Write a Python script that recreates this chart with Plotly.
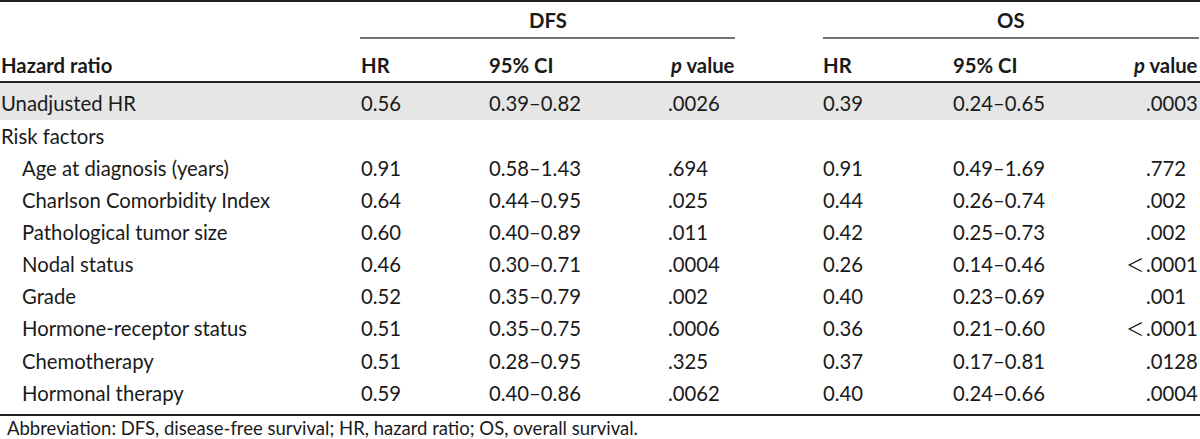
import plotly.graph_objects as go

# ---- data ----
row_labels = ["Unadjusted HR", "Risk factors", "Age at diagnosis (years)", "Charlson Comorbidity Index",
              "Pathological tumor size", "Nodal status", "Grade", "Hormone-receptor status",
              "Chemotherapy", "Hormonal therapy"]
row_indent = [0, 0, 1, 1, 1, 1, 1, 1, 1, 1]
dfs_hr = ["0.56", "", "0.91", "0.64", "0.60", "0.46", "0.52", "0.51", "0.51", "0.59"]
dfs_ci = ["0.39–0.82", "", "0.58–1.43", "0.44–0.95", "0.40–0.89", "0.30–0.71", "0.35–0.79",
          "0.35–0.75", "0.28–0.95", "0.40–0.86"]
dfs_p = [".0026", "", ".694", ".025", ".011", ".0004", ".002", ".0006", ".325", ".0062"]
os_hr = ["0.39", "", "0.91", "0.44", "0.42", "0.26", "0.40", "0.36", "0.37", "0.40"]
os_ci = ["0.24–0.65", "", "0.49–1.69", "0.26–0.74", "0.25–0.73", "0.14–0.46", "0.23–0.69",
         "0.21–0.60", "0.17–0.81", "0.24–0.66"]
os_p = [".0003", "", ".772", ".002", ".002", "<.0001", ".001", "<.0001", ".0128", ".0004"]
group_titles = ["DFS", "OS"]
col_headers = ["HR", "95% CI", "<i>p</i> value"]
stub_header = "Hazard ratio"
footnote = "Abbreviation: DFS, disease-free survival; HR, hazard ratio; OS, overall survival."

# ---- layout constants ----
W, H = 1200, 439
FONT = "Lato, 'Open Sans', sans-serif"
FS = 20.3
TXT = "#1a1a1a"
row_y = [103, 136, 168, 200, 232, 264, 296, 328, 361, 393]

fig = go.Figure()
ann = []
shapes = []

def text(x, y, s, anchor="left", bold=False, size=FS, family=FONT):
    ann.append(dict(x=x, y=y, xref="x", yref="y", text=f"<b>{s}</b>" if bold else s,
                    showarrow=False, xanchor=anchor, yanchor="middle", borderpad=0,
                    font=dict(family=family, size=size, color=TXT)))

# shading of first row
shapes.append(dict(type="rect", x0=0, x1=W, y0=83, y1=120, xref="x", yref="y",
                   fillcolor="#e6e6e6", line=dict(width=0), layer="below"))
# rules
for y, w in [(1, 2), (82, 2), (415, 2)]:
    shapes.append(dict(type="line", x0=0, x1=W, y0=y, y1=y, xref="x", yref="y",
                       line=dict(color="#222222", width=w)))
groups = [dict(x0=360, x1=735, hr=360, ci=488, p=667, pr=736),
          dict(x0=823, x1=1199, hr=822, ci=952, p=1145, pr=1199)]
for g, t in zip(groups, group_titles):
    shapes.append(dict(type="line", x0=g["x0"], x1=g["x1"], y0=38, y1=38, xref="x", yref="y",
                       line=dict(color="#444444", width=1.5)))
    text((g["x0"] + g["x1"]) / 2, 20, t, anchor="center", bold=True)
    text(g["hr"], 65, col_headers[0], bold=True)
    text(g["ci"], 65, col_headers[1], bold=True)
    text(g["pr"], 65, col_headers[2], anchor="right", bold=True)

text(0, 65, stub_header, bold=True)

for i, lab in enumerate(row_labels):
    y = row_y[i]
    text(0 + 21 * row_indent[i], y, lab)
    for g, hr, ci, p in [(groups[0], dfs_hr[i], dfs_ci[i], dfs_p[i]),
                         (groups[1], os_hr[i], os_ci[i], os_p[i])]:
        if hr:
            text(g["hr"], y, hr)
            text(g["ci"], y, ci)
        if p:
            if p.startswith("<"):
                text(g["p"], y, p[1:])
                text(g["p"], y, "＜", anchor="right", family="'Noto Sans CJK SC', sans-serif", size=18)
            else:
                text(g["p"], y, p)

text(6, 428, footnote, size=18.5)

fig.update_layout(width=W, height=H, margin=dict(l=0, r=0, t=0, b=0),
                  paper_bgcolor="white", plot_bgcolor="white",
                  xaxis=dict(range=[0, W], visible=False, fixedrange=True),
                  yaxis=dict(range=[H, 0], visible=False, fixedrange=True),
                  annotations=ann, shapes=shapes, showlegend=False)
fig.write_html("out.html", config={"displayModeBar": False},
               post_script="document.body.style.margin='0';document.body.style.padding='0';")
